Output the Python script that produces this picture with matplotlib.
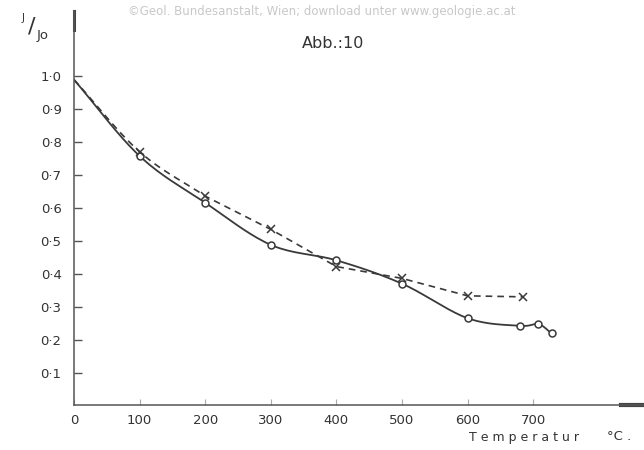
import numpy as np
import matplotlib
matplotlib.use("Agg")
import matplotlib.pyplot as plt

# Data
temp_solid = [0, 100, 200, 300, 400, 500, 600, 680, 708, 728]
ratio_solid = [0.99, 0.758, 0.616, 0.488, 0.441, 0.370, 0.265, 0.242, 0.247, 0.219]
temp_dashed = [0, 100, 200, 300, 400, 500, 600, 684]
ratio_dashed = [0.99, 0.771, 0.636, 0.535, 0.422, 0.386, 0.333, 0.330]
xticks = [0, 100, 200, 300, 400, 500, 600, 700]
yticks = [0.1, 0.2, 0.3, 0.4, 0.5, 0.6, 0.7, 0.8, 0.9, 1.0]
ytick_labels = ["0·1", "0·2", "0·3", "0·4", "0·5", "0·6", "0·7", "0·8", "0·9", "1·0"]


def catmull_rom(xs, ys, n=20):
    p = np.column_stack([xs, ys]).astype(float)
    p = np.vstack([2 * p[0] - p[1], p, 2 * p[-1] - p[-2]])
    out = []
    t = np.linspace(0, 1, n)[:, None]
    for i in range(1, len(p) - 2):
        p0, p1, p2, p3 = p[i - 1], p[i], p[i + 1], p[i + 2]
        seg = 0.5 * ((2 * p1) + (-p0 + p2) * t + (2 * p0 - 5 * p1 + 4 * p2 - p3) * t ** 2
                     + (-p0 + 3 * p1 - 3 * p2 + p3) * t ** 3)
        out.append(seg if i == 1 else seg[1:])
    out = np.vstack(out)
    return out[:, 0], out[:, 1]


W, H = 644, 450
fig = plt.figure(figsize=(W / 100, H / 100), dpi=100)
fig.patch.set_facecolor("white")

left_px, bottom_px, top_px = 74, 405.4, 10.6
ax = fig.add_axes([left_px / W, (H - bottom_px) / H, (W - left_px) / W, (bottom_px - top_px) / H])
ax.set_xlim(0, (W - left_px) / 0.656)
ax.set_ylim(0, 1.2)

col = "#3a3a3a"
sx, sy = catmull_rom(temp_solid, ratio_solid)
ax.plot(sx, sy, color=col, lw=1.3, solid_capstyle="round")
ax.plot(temp_solid[1:], ratio_solid[1:], "o", ms=5, mfc="white", mec=col, mew=1.1, ls="none")

dx, dy = catmull_rom(temp_dashed[:3], ratio_dashed[:3])
ax.plot(list(dx) + temp_dashed[3:], list(dy) + ratio_dashed[3:], color=col, lw=1.2, ls=(0, (4, 3)))
ax.plot(temp_dashed[1:], ratio_dashed[1:], "x", ms=6, mec=col, mew=1.1, ls="none")

for s in ["top", "right"]:
    ax.spines[s].set_visible(False)
for s in ["left", "bottom"]:
    ax.spines[s].set_color("#555555")
    ax.spines[s].set_linewidth(1.1)

ax.set_xticks(xticks)
ax.set_xticklabels([str(v) for v in xticks])
ax.set_yticks(yticks)
ax.set_yticklabels(ytick_labels)
ax.tick_params(axis="y", direction="in", length=6, width=1, colors="#555555", labelcolor="#333333",
               labelsize=9.5, pad=9)
ax.tick_params(axis="x", direction="in", length=4, width=0.8, colors="#aaaaaa", labelcolor="#333333",
               labelsize=9.5, pad=6)

# thick end pieces of the axes
ax.plot([0.96, 1.0], [0, 0], transform=ax.transAxes, color="#444444", lw=3, clip_on=False)
ax.plot([0, 0], [0.95, 1.0], transform=ax.transAxes, color="#444444", lw=2.2, clip_on=False)

fig.text(0.5, 0.99, "©Geol. Bundesanstalt, Wien; download unter www.geologie.ac.at",
         ha="center", va="top", fontsize=8.5, color="#c8c8c8")
fig.text(333 / W, 1 - 43 / H, "Abb.:10", ha="center", va="center", fontsize=11.5, color="#333333")
fig.text(23 / W, 1 - 18 / H, "J", ha="center", va="center", fontsize=7.5, color="#333333")
fig.text(32 / W, 1 - 27 / H, "/", ha="center", va="center", fontsize=16, color="#333333")
fig.text(43 / W, 1 - 35 / H, "Jo", ha="center", va="center", fontsize=9.5, color="#333333")
fig.text(524 / W, 1 - 437 / H, "T e m p e r a t u r", ha="center", va="center", fontsize=9,
         color="#333333")
fig.text(619 / W, 1 - 437 / H, "°C .", ha="center", va="center", fontsize=9.5, color="#333333")

fig.savefig("out.png", dpi=100, facecolor="white")
